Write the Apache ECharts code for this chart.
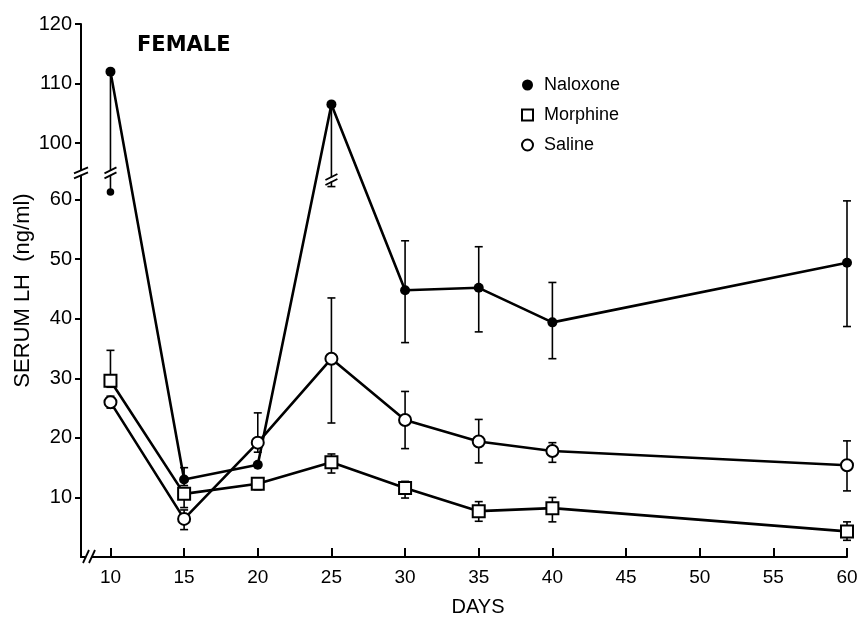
<!DOCTYPE html>
<html><head><meta charset="utf-8">
<script src="https://cdn.jsdelivr.net/npm/echarts@6/dist/echarts.min.js"></script>
<style>html,body{margin:0;padding:0;background:#fff}#c{width:865px;height:617px}</style>
</head><body><div id="c"></div>
<script>
const days = [10, 15, 20, 25, 30, 35, 40, 60];
const xTicks = [10, 15, 20, 25, 30, 35, 40, 45, 50, 55, 60];
const yTicks = [10, 20, 30, 40, 50, 60, 100, 110, 120];

const naloxone     = [112, 13, 15.5, 106.5, 44.8, 45.2, 39.4, 49.4];
const naloxoneLow  = [61.3, 12, null, 62.2, 36.0, 37.8, 33.3, 38.7];
const naloxoneHigh = [112, 15, null, 106.5, 53.1, 52.1, 46.1, 59.8];

const morphine     = [29.6, 10.6, 12.3, 15.9, 11.6, 7.7, 8.2, 4.3];
const morphineLow  = [28.5, 8.3, 11.3, 14.1, 9.9, 6.0, 5.9, 2.8];
const morphineHigh = [34.7, 11.5, 13.2, 17.3, 12.7, 9.3, 10.0, 5.9];

const saline       = [26.0, 6.4, 19.2, 33.3, 23.0, 19.4, 17.8, 15.4];
const salineLow    = [25.0, 4.6, 17.6, 22.5, 18.2, 15.8, 15.9, 11.1];
const salineHigh   = [27.0, 7.9, 24.2, 43.5, 27.8, 23.1, 19.2, 19.5];

const FONT = 'Liberation Sans';
const chart = echarts.init(document.getElementById('c'), null, {renderer: 'canvas'});

function pairs(vals) { return days.map((d, i) => [d, vals[i]]); }
function errData(lo, hi) {
  const out = [];
  days.forEach((d, i) => { if (lo[i] != null) out.push([d, lo[i], hi[i]]); });
  return out;
}
function errRender(params, api) {
  const x = api.value(0), lo = api.value(1), hi = api.value(2);
  const pH = api.coord([x, hi]), pL = api.coord([x, lo]);
  const w = 4, st = {stroke: '#000', lineWidth: 1.6};
  const kids = [
    {type: 'line', shape: {x1: pH[0], y1: pH[1], x2: pL[0], y2: pL[1]}, style: st},
    {type: 'line', shape: {x1: pH[0] - w, y1: pH[1], x2: pH[0] + w, y2: pH[1]}, style: st}
  ];
  if (params.seriesName === 'nalErr' && params.dataIndex === 0) {
    kids.push({type: 'circle', shape: {cx: pL[0], cy: pL[1], r: 3.8}, style: {fill: '#000'}});
  } else {
    kids.push({type: 'line', shape: {x1: pL[0] - w, y1: pL[1], x2: pL[0] + w, y2: pL[1]}, style: st});
  }
  return {type: 'group', children: kids};
}
const lineStyle = {color: '#000', width: 2.6};

chart.setOption({
  animation: false,
  backgroundColor: '#fff',
  textStyle: {fontFamily: FONT, color: '#000'},
  title: {text: 'FEMALE', left: 132, top: 30,
    textStyle: {fontFamily: 'DejaVu Sans', fontWeight: 'bold', fontSize: 21, color: '#000'}},
  legend: {
    orient: 'vertical', left: 516, top: 71, itemWidth: 11, itemHeight: 11, itemGap: 12,
    textStyle: {fontFamily: FONT, fontSize: 18, color: '#000', padding: [0, 0, 0, 6]},
    data: [{name: 'Naloxone', icon: 'circle'}, {name: 'Morphine', icon: 'rect'}, {name: 'Saline', icon: 'circle'}]
  },
  grid: {left: 81, right: 18, top: 24, bottom: 60, outerBoundsMode: 'none', containLabel: false},
  xAxis: {
    type: 'value', min: 8, max: 60,
    name: 'DAYS', nameLocation: 'middle', nameGap: 40,
    nameTextStyle: {fontFamily: FONT, fontSize: 20, color: '#000', padding: [0, 0, 0, 28]},
    axisLine: {lineStyle: {color: '#000', width: 2}},
    axisTick: {inside: true, length: 9, lineStyle: {color: '#000', width: 2}, customValues: xTicks},
    axisLabel: {fontFamily: FONT, fontSize: 19, color: '#000', margin: 11, customValues: xTicks},
    splitLine: {show: false}
  },
  yAxis: {
    type: 'value', min: 0, max: 120,
    breaks: [{start: 64.5, end: 95, gap: 0}],
    breakArea: {show: false},
    name: 'SERUM LH  (ng/ml)', nameLocation: 'middle', nameGap: 47, nameMoveOverlap: false,
    nameTextStyle: {fontFamily: FONT, fontSize: 22, color: '#000'},
    axisLine: {show: true, lineStyle: {color: '#000', width: 2}},
    axisTick: {show: true, length: 6, lineStyle: {color: '#000', width: 2}, customValues: yTicks},
    axisLabel: {fontFamily: FONT, fontSize: 20, color: '#000', margin: 9, customValues: yTicks},
    splitLine: {show: false}
  },
  series: [
    {name: 'nalErr', type: 'custom', renderItem: errRender, data: errData(naloxoneLow, naloxoneHigh), encode: {x: 0, y: [1, 2]}, z: 1, silent: true},
    {name: 'morErr', type: 'custom', renderItem: errRender, data: errData(morphineLow, morphineHigh), encode: {x: 0, y: [1, 2]}, z: 1, silent: true},
    {name: 'salErr', type: 'custom', renderItem: errRender, data: errData(salineLow, salineHigh), encode: {x: 0, y: [1, 2]}, z: 1, silent: true},
    {name: 'Naloxone', type: 'line', data: pairs(naloxone), symbol: 'circle', symbolSize: 10,
      lineStyle: lineStyle, itemStyle: {color: '#000', borderColor: '#000', borderWidth: 0}, z: 3},
    {name: 'Morphine', type: 'line', data: pairs(morphine), symbol: 'rect', symbolSize: 12,
      lineStyle: lineStyle, itemStyle: {color: '#fff', borderColor: '#000', borderWidth: 2}, z: 4},
    {name: 'Saline', type: 'line', data: pairs(saline), symbol: 'circle', symbolSize: 12,
      lineStyle: lineStyle, itemStyle: {color: '#fff', borderColor: '#000', borderWidth: 2}, z: 4}
  ]
});

// decorative break marks
function breakMark(cx, cy, hw) {
  return [
    {type: 'rect', shape: {x: cx - 3, y: cy - 2, width: 6, height: 4}, style: {fill: '#fff'}, z: 10},
    {type: 'line', shape: {x1: cx - hw, y1: cy + 0.5, x2: cx + hw, y2: cy - 5.5}, style: {stroke: '#000', lineWidth: 1.8}, z: 11},
    {type: 'line', shape: {x1: cx - hw, y1: cy + 5.5, x2: cx + hw, y2: cy - 0.5}, style: {stroke: '#000', lineWidth: 1.8}, z: 11}
  ];
}
const yB = chart.convertToPixel({yAxisIndex: 0}, 64.5);
const xAx = chart.convertToPixel({xAxisIndex: 0}, 8);
const x10 = chart.convertToPixel({xAxisIndex: 0}, days[0]);
const x25 = chart.convertToPixel({xAxisIndex: 0}, days[3]);
const y25 = chart.convertToPixel({yAxisIndex: 0}, 63.4);
const y0 = chart.convertToPixel({yAxisIndex: 0}, 0);
let g = [].concat(breakMark(xAx, yB, 7), breakMark(x10, yB, 6), breakMark(x25, y25, 6));
g.push({type: 'rect', shape: {x: xAx + 4, y: y0 - 2, width: 7, height: 4}, style: {fill: '#fff'}, z: 10});
g.push({type: 'line', shape: {x1: xAx + 2, y1: y0 + 6, x2: xAx + 8, y2: y0 - 7}, style: {stroke: '#000', lineWidth: 1.8}, z: 11});
g.push({type: 'line', shape: {x1: xAx + 8, y1: y0 + 6, x2: xAx + 14, y2: y0 - 7}, style: {stroke: '#000', lineWidth: 1.8}, z: 11});
chart.setOption({graphic: {elements: g}});
</script>
</body></html>
